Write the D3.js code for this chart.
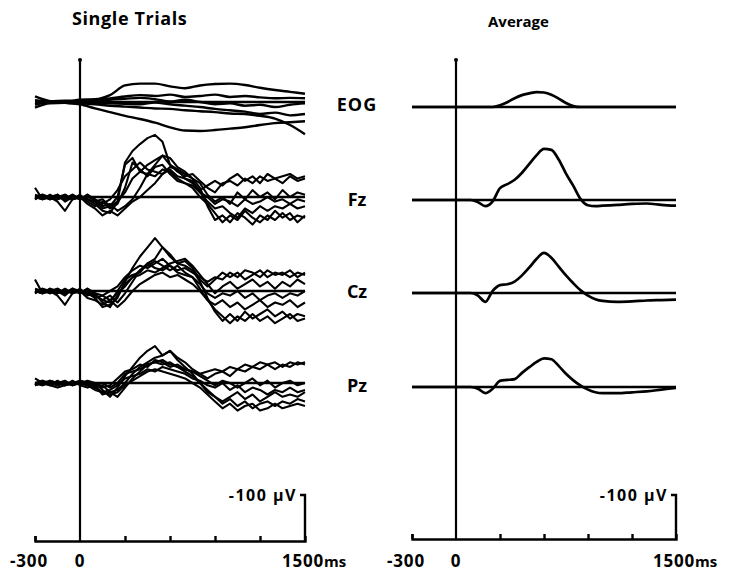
<!DOCTYPE html>
<html>
<head>
<meta charset="utf-8">
<script src="https://cdn.jsdelivr.net/npm/d3@7"></script>
<style>
    body { margin: 0; background: #fff; }
    text { font-family: "Open Sans", sans-serif; font-weight: 700; fill: #000; }
</style>
</head>
<body>
<div class="canvas"></div>
<script>
// channels and time grid (ms)
const channels = ['EOG', 'Fz', 'Cz', 'Pz'];
const times = [-300,-250,-200,-150,-100,-50,0,50,100,150,200,250,300,350,400,450,500,550,600,650,700,750,800,850,900,950,1000,1050,1100,1150,1200,1250,1300,1350,1400,1450,1500];
const eogTimes = [-300,-200,-100,0,100,200,300,400,500,600,700,800,900,1000,1100,1200,1300,1400,1500];
const avgTimes = [-300,-100,0,100,150,200,250,300,350,400,450,500,550,600,650,700,750,800,850,900,950,1000,1100,1200,1300,1400,1500];
const tickTimes = [-300, 300, 600, 900, 1200];
const tickLabels = ['-300', '0', '1500'];

// single trials, microvolts (negative up)
const eogTrials = [
    [-12,-2,0,-5,-6,-15,-36,-40,-40,-34,-30,-36,-39,-40,-37,-31,-26,-22,-18],
    [6,0,2,5,14,22,30,37,45,55,62,63,61,58,55,50,46,44,42],
    [12,3,2,3,5,8,10,12,14,15,18,20,22,25,26,30,36,50,70],
    [-4,-2,-3,-3,-5,-8,-12,-15,-13,-16,-11,-13,-16,-11,-13,-10,-8,-9,-8],
    [3,1,2,2,2,3,4,5,1,5,8,11,15,18,21,26,23,29,26],
    [-2,0,1,0,-2,-5,-7,-9,-6,-1,-5,0,5,3,8,6,11,6,3]
];
const fzTrials = [
    [-20,5,0,10,30,5,0,5,15,30,35,10,-75,-100,-115,-128,-135,-120,-70,-60,-50,-40,-20,20,50,40,55,35,45,60,40,50,30,45,35,55,40],
    [5,-5,5,0,5,-5,5,-5,10,5,20,0,-70,-85,-55,-70,-80,-90,-70,-55,-45,-50,-35,-20,-10,-30,-35,-25,-40,-30,-45,-35,-40,-30,-45,-35,-40],
    [0,5,-5,5,0,5,-5,10,20,10,25,15,-20,-75,-60,-45,-65,-70,-50,-35,-30,-20,0,15,35,55,40,50,30,45,55,40,50,35,50,40,45],
    [-5,0,5,-5,10,0,5,0,5,20,15,30,20,5,-20,-50,-70,-90,-85,-65,-55,-40,-30,-5,10,0,15,-10,5,-15,0,-10,5,-15,0,-10,-5],
    [0,5,0,5,-5,5,0,15,25,40,30,40,25,10,0,-15,-30,-50,-65,-60,-40,-35,-10,10,25,20,35,45,25,35,20,30,20,25,15,25,20],
    [5,-5,0,-5,5,-5,5,-5,5,15,5,-15,-45,-60,-75,-60,-55,-50,-60,-45,-40,-30,-15,-25,-35,-25,-40,-50,-35,-45,-30,-50,-40,-45,-50,-40,-45],
    [0,-5,5,0,-5,5,0,5,10,25,20,10,-10,-40,-55,-50,-45,-60,-55,-40,-30,-25,-10,0,15,5,10,20,5,15,10,0,10,5,15,5,10]
];
const czTrials = [
    [-25,5,0,10,30,5,0,5,15,35,30,15,-20,-50,-75,-95,-115,-95,-75,-60,-55,-45,-20,15,45,65,50,65,45,60,50,40,55,45,60,50,55],
    [5,-5,5,0,10,-5,5,-5,10,20,10,25,5,-20,-45,-60,-70,-95,-80,-60,-65,-50,-25,-10,-25,-40,-30,-40,-25,-35,-45,-30,-40,-35,-45,-30,-40],
    [0,5,-5,5,0,5,-5,10,5,25,35,10,-15,-30,-45,-55,-65,-55,-45,-55,-40,-30,-5,20,30,20,35,25,40,30,20,35,25,30,20,35,25],
    [-5,0,5,-5,5,0,5,0,15,10,20,5,-10,-30,-35,-45,-40,-50,-60,-65,-70,-55,-35,-15,5,-10,-20,-5,-15,-25,-10,-20,-5,-20,-10,-25,-15],
    [0,5,0,5,-5,5,0,15,20,30,20,35,20,0,-15,-25,-35,-40,-30,-35,-25,-15,0,20,40,55,70,55,65,50,65,55,70,60,50,65,60],
    [5,-5,0,-5,5,-5,5,-5,5,10,0,-10,-30,-45,-55,-50,-60,-70,-55,-45,-50,-40,-30,-20,-30,-25,-40,-30,-45,-40,-30,-45,-35,-40,-30,-40,-35],
    [0,5,-5,0,5,-5,0,5,10,20,25,0,-25,-35,-40,-60,-50,-45,-55,-40,-35,-30,-15,5,15,5,10,0,15,5,20,10,5,15,5,10,0]
];
const pzTrials = [
    [-10,0,5,10,5,0,0,5,0,15,30,10,-15,-35,-55,-70,-80,-60,-70,-50,-35,-20,0,20,30,45,35,50,40,55,45,40,50,40,45,35,40],
    [5,-5,0,5,0,5,-5,0,10,5,20,15,0,-20,-35,-45,-55,-60,-70,-55,-45,-30,-20,-10,-20,-25,-15,-30,-25,-35,-30,-40,-30,-40,-35,-45,-40],
    [0,5,-5,0,5,-5,5,10,5,25,20,30,10,-10,-25,-40,-45,-40,-45,-35,-25,-15,0,15,30,40,30,20,35,25,40,30,20,30,25,30,20],
    [5,0,5,-5,5,0,0,-5,0,10,5,-10,-25,-30,-40,-35,-50,-45,-35,-40,-30,-25,-15,-5,5,-5,0,10,0,-10,5,-5,10,0,-5,5,0],
    [0,5,0,5,0,5,0,5,15,20,25,20,5,-5,-15,-25,-30,-25,-20,-15,-10,0,10,25,40,55,45,60,50,45,60,55,45,55,50,45,50],
    [5,0,-5,0,5,0,-5,0,5,0,10,0,-20,-25,-30,-40,-45,-50,-40,-35,-30,-25,-20,-25,-30,-25,-35,-30,-40,-35,-45,-40,-45,-35,-45,-40,-45],
    [0,-5,5,0,-5,5,0,5,10,20,15,5,-10,-15,-20,-30,-25,-35,-30,-25,-20,-10,-5,5,10,0,15,5,20,10,15,25,15,20,10,20,15]
];

// averages, microvolts (negative up)
const eogAvg = [0,0,0,0,0,0,0,-4,-11,-20,-27,-31,-34,-33,-28,-19,-9,-2,0,0,0,0,0,0,0,0,0];
const fzAvg = [0,0,0,0,5,14,3,-27,-36,-46,-62,-82,-102,-116,-114,-92,-60,-32,-2,12,14,13,11,9,8,11,13];
const czAvg = [0,0,0,0,6,20,-5,-18,-20,-26,-40,-58,-78,-91,-80,-60,-40,-22,-6,6,14,18,20,19,17,16,15];
const pzAvg = [0,0,0,0,4,14,4,-14,-16,-18,-32,-45,-57,-65,-63,-48,-30,-15,-3,6,12,14,14,12,10,6,2];

const svg = d3.select('.canvas')
    .append('svg')
    .attr('width', 729)
    .attr('height', 583);

svg.append('rect').attr('width', 729).attr('height', 583).attr('fill', '#fff');

// layout of the two panels
const panels = [
    {
        x: d3.scaleLinear().domain([-300, 1500]).range([35, 305]),
        bases: [102, 197, 291, 383],
        axisY: 541, cal: 46, title: 'Single Trials', titleX: 72
    },
    {
        x: d3.scaleLinear().domain([-300, 1500]).range([412, 676]),
        bases: [107, 200, 293, 387],
        axisY: 539, cal: 44, title: 'Average', titleX: 488
    }
];

const ampScale = (base, cal) => d3.scaleLinear().domain([0, -100]).range([base, base - cal]);

const drawTrace = (x, y, ts, values, curve, width) => {
    const line = d3.line()
        .x((d, i) => x(ts[i]))
        .y(d => y(d))
        .curve(curve);
    svg.append('path')
        .attr('d', line(values))
        .attr('fill', 'none')
        .attr('stroke', '#000')
        .attr('stroke-width', width)
        .attr('stroke-linejoin', 'round');
};

panels.forEach((p, pi) => {
    // title
    svg.append('text')
        .attr('x', p.titleX)
        .attr('y', pi === 0 ? 25 : 27)
        .attr('font-size', pi === 0 ? 18 : 15)
        .attr('letter-spacing', pi === 0 ? 0.6 : 0)
        .text(p.title);

    // baselines
    p.bases.forEach(b => {
        const y = ampScale(b, p.cal);
        svg.append('line')
            .attr('x1', p.x(-300)).attr('x2', p.x(1500))
            .attr('y1', y(0)).attr('y2', y(0))
            .attr('stroke', '#000').attr('stroke-width', 2.4);
    });

    // zero line
    svg.append('line')
        .attr('x1', p.x(0)).attr('x2', p.x(0))
        .attr('y1', 60).attr('y2', p.axisY)
        .attr('stroke', '#000').attr('stroke-width', 2.2);
    svg.append('circle')
        .attr('cx', p.x(0)).attr('cy', 60).attr('r', 2).attr('fill', '#000');

    // time axis, ticks pointing up
    const xAxis = d3.axisBottom(p.x)
        .tickValues(tickTimes)
        .tickSize(-5)
        .tickFormat('');
    const axisGroup = svg.append('g')
        .attr('transform', `translate(0, ${p.axisY})`)
        .call(xAxis);
    axisGroup.selectAll('path, line')
        .attr('stroke', '#000')
        .attr('stroke-width', 2.4);

    // calibration bar
    const cx = p.x(1500);
    svg.append('path')
        .attr('d', `M${cx},${p.axisY}V${p.axisY - p.cal}h-5`)
        .attr('fill', 'none')
        .attr('stroke', '#000')
        .attr('stroke-width', 2.4);
    svg.append('text')
        .attr('x', cx - 8)
        .attr('y', p.axisY - p.cal + 6)
        .attr('text-anchor', 'end')
        .attr('font-size', 16)
        .attr('letter-spacing', 1.5)
        .text('-100  \u00b5V');

    // tick labels
    [-300, 0, 1500].forEach((t, i) => {
        const txt = svg.append('text')
            .attr('y', 567)
            .attr('font-size', 17)
            .attr('letter-spacing', 0.8);
        if (t === 1500) {
            txt.attr('x', p.x(t) - 23).text(tickLabels[i]);
            txt.append('tspan').attr('font-size', 15).attr('letter-spacing', 0).text('ms');
        } else {
            txt.attr('x', p.x(t) - (t === 0 ? 0 : 6))
                .attr('text-anchor', 'middle')
                .text(tickLabels[i]);
        }
    });
});

// channel labels between the panels
const labelY = [111, 206, 298, 392];
channels.forEach((c, i) => {
    svg.append('text')
        .attr('x', 357)
        .attr('y', labelY[i])
        .attr('text-anchor', 'middle')
        .attr('font-size', 18)
        .attr('letter-spacing', i === 0 ? 1 : 0)
        .text(c);
});

// single trials
const left = panels[0];
const trialSets = [eogTrials, fzTrials, czTrials, pzTrials];
trialSets.forEach((set, ci) => {
    const y = ampScale(left.bases[ci], left.cal);
    set.forEach(values => {
        if (ci === 0) drawTrace(left.x, y, eogTimes, values, d3.curveMonotoneX, 2.4);
        else drawTrace(left.x, y, times, values, d3.curveLinear, 2.1);
    });
});

// averages
const right = panels[1];
[eogAvg, fzAvg, czAvg, pzAvg].forEach((values, ci) => {
    const y = ampScale(right.bases[ci], right.cal);
    drawTrace(right.x, y, avgTimes, values, d3.curveMonotoneX, 2.7);
});
</script>
</body>
</html>
